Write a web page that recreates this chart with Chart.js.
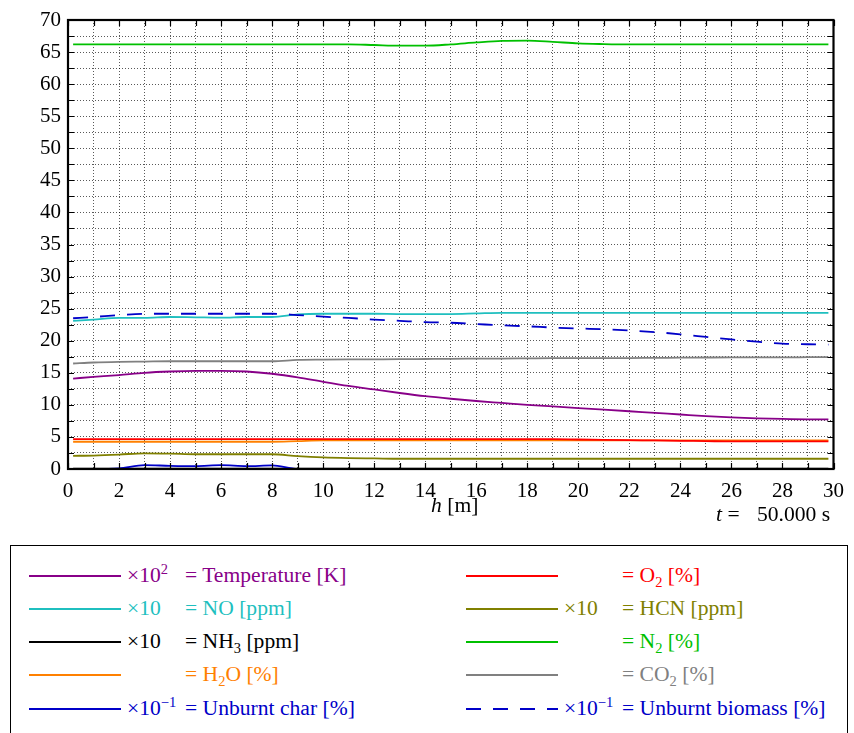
<!DOCTYPE html>
<html><head><meta charset="utf-8">
<script src="https://cdn.jsdelivr.net/npm/chart.js@4.4.1/dist/chart.umd.min.js"></script>
<style>
html,body{margin:0;padding:0;background:#fff;font-family:'Liberation Serif';}
#wrap{position:relative;width:854px;height:733px;overflow:hidden;font-family:'Liberation Serif';}
canvas{position:absolute;left:0;top:0;}
.t{position:absolute;white-space:nowrap;font-family:'Liberation Serif';font-size:21.6px;line-height:21px;}
.t sub,.t sup{font-size:14.5px;line-height:0;}
#legend{position:absolute;left:10px;top:545px;width:838px;height:200px;box-sizing:border-box;border:1px solid #000;}
.ln{position:absolute;width:92px;height:2px;}
</style></head><body>
<div id="wrap">
<canvas id="c" width="854" height="535"></canvas>
<div class="t" style="left:431px;top:495px;"><i>h</i> [m]</div>
<div class="t" style="left:716px;top:504px;"><i>t</i> =</div>
<div class="t" style="left:757px;top:504px;">50.000 s</div>
<div id="legend"></div>
</div>
<script>
const h = [0.2,1,2,3,4,5,6,7,8,9,10,11,12,13,14,15,16,17,18,19,20,21,22,23,24,25,26,27,28,29,29.8];
const temperature = [14.1,14.35,14.65,15.0,15.2,15.3,15.3,15.2,14.85,14.3,13.6,12.95,12.4,11.85,11.35,10.95,10.6,10.3,10.0,9.75,9.5,9.25,9.0,8.75,8.5,8.25,8.05,7.9,7.8,7.75,7.75];
const no = [23.1,23.3,23.55,23.55,23.7,23.65,23.6,23.7,23.7,24.1,24.2,24.2,24.2,24.15,24.15,24.15,24.25,24.35,24.35,24.35,24.35,24.35,24.35,24.35,24.35,24.35,24.35,24.35,24.35,24.35,24.35];
const nh3 = [0.05,0.05,0.05,0.05,0.05,0.05,0.05,0.05,0.05,0.05,0.05,0.05,0.05,0.05,0.05,0.05,0.05,0.05,0.05,0.05,0.05,0.05,0.05,0.05,0.05,0.05,0.05,0.05,0.05,0.05,0.05];
const h2o = [4.25,4.25,4.25,4.25,4.25,4.25,4.25,4.25,4.25,4.35,4.45,4.45,4.45,4.45,4.45,4.45,4.45,4.45,4.45,4.45,4.45,4.45,4.45,4.45,4.45,4.45,4.45,4.45,4.45,4.45,4.45];
const unburntChar = [0,0,0.1,0.6,0.5,0.45,0.6,0.45,0.55,0,0,0,0,0,0,0,0,0,0,0,0,0,0,0,0,0,0,0,0,0,0];
const o2 = [4.65,4.65,4.65,4.65,4.65,4.65,4.65,4.65,4.65,4.65,4.65,4.65,4.65,4.65,4.65,4.65,4.65,4.65,4.65,4.65,4.6,4.55,4.5,4.45,4.4,4.35,4.3,4.3,4.3,4.3,4.3];
const hcn = [2.05,2.1,2.25,2.45,2.4,2.3,2.3,2.3,2.3,2.0,1.8,1.7,1.65,1.6,1.6,1.6,1.6,1.6,1.6,1.6,1.6,1.6,1.6,1.6,1.6,1.6,1.6,1.6,1.6,1.6,1.6];
const n2 = [66.2,66.2,66.2,66.2,66.2,66.2,66.2,66.2,66.2,66.2,66.2,66.2,66.1,66.0,66.0,66.2,66.5,66.75,66.8,66.6,66.35,66.25,66.2,66.2,66.2,66.2,66.2,66.2,66.2,66.2,66.2];
const co2 = [16.45,16.6,16.7,16.75,16.8,16.8,16.8,16.8,16.8,17.0,17.05,17.08,17.1,17.12,17.15,17.18,17.2,17.22,17.25,17.28,17.3,17.3,17.3,17.33,17.35,17.38,17.4,17.4,17.4,17.43,17.45];
const unburntBiomass = [23.5,23.7,24.0,24.2,24.2,24.2,24.2,24.2,24.2,24.0,23.75,23.55,23.3,23.1,22.9,22.8,22.6,22.4,22.25,22.05,21.9,21.8,21.6,21.35,21.0,20.6,20.2,19.85,19.55,19.45,19.4];

const multipliers = ['×10<sup>2</sup>','×10','×10','','×10<sup>−1</sup>','','×10','','','×10<sup>−1</sup>'];
const names = ['= Temperature [K]','= NO [ppm]','= NH<sub>3</sub> [ppm]','= H<sub>2</sub>O [%]','= Unburnt char [%]','= O<sub>2</sub> [%]','= HCN [ppm]','= N<sub>2</sub> [%]','= CO<sub>2</sub> [%]','= Unburnt biomass [%]'];
const seriesData = [temperature,no,nh3,h2o,unburntChar,o2,hcn,n2,co2,unburntBiomass];
const colors = ['#880088','#1fbfbf','#000000','#ff8000','#0000c8','#ff0000','#808000','#00c000','#808080','#0000c8'];
const dashed = [false,false,false,false,false,false,false,false,false,true];
const xTickMax = 30, yTickMax = 70;

// draw order: first dataset on top
const drawOrder = [9,4,5,3,6,1,8,0,7,2];
const datasets = drawOrder.map(i => ({
  label: names[i].replace(/<[^>]+>/g,''),
  data: h.map((x,k)=>({x:x,y:seriesData[i][k]})),
  borderColor: colors[i],
  borderWidth: 1.8,
  borderDash: dashed[i] ? [15,12] : [],
  pointRadius: 0,
  fill: false,
  cubicInterpolationMode: 'monotone'
}));

const frame = {
  id:'frame',
  afterDraw(chart){
    const {ctx, chartArea:a, scales:{x,y}} = chart;
    ctx.save();
    ctx.strokeStyle='#000'; ctx.lineWidth=1.2;
    ctx.beginPath();
    x.ticks.forEach(t=>{ const px=Math.round(x.getPixelForValue(t.value))+0.5;
      ctx.moveTo(px,a.bottom); ctx.lineTo(px,a.bottom-6); ctx.moveTo(px,a.top); ctx.lineTo(px,a.top+6);});
    y.ticks.forEach(t=>{ const py=Math.round(y.getPixelForValue(t.value))+0.5;
      ctx.moveTo(a.left,py); ctx.lineTo(a.left+6,py); ctx.moveTo(a.right,py); ctx.lineTo(a.right-6,py);});
    ctx.stroke();
    ctx.lineWidth=2.2;
    ctx.strokeRect(a.left,a.top,a.right-a.left,a.bottom-a.top);
    ctx.restore();
  }
};

Chart.defaults.font.family = "'Liberation Serif'";
const font = {family:"'Liberation Serif'", size:21};
new Chart(document.getElementById('c'), {
  type:'line',
  data:{datasets},
  options:{
    responsive:false, animation:false,
    layout:{padding:{top:20,right:16,left:0,bottom:0}},
    plugins:{legend:{display:false}, tooltip:{enabled:false}},
    scales:{
      x:{type:'linear', min:0, max:xTickMax,
        ticks:{stepSize:1, autoSkip:false, maxRotation:0, color:'#000', font, padding:10,
          callback:v=> (v%2===0 ? String(v) : '')},
        grid:{color:'rgba(0,0,0,0.65)', lineWidth:1, drawTicks:false},
        border:{display:false, dash:[1,2]},
        afterFit:s=>{s.height=66;}
      },
      y:{min:0, max:yTickMax,
        ticks:{stepSize:2.5, autoSkip:false, color:'#000', font, padding:7,
          callback:v=> (v%5===0 ? String(v) : '')},
        grid:{color:'rgba(0,0,0,0.65)', lineWidth:1, drawTicks:false},
        border:{display:false, dash:[1,2]},
        afterFit:s=>{s.width=68;}
      }
    }
  },
  plugins:[frame]
});

// legend (HTML)
const leg = document.getElementById('legend');
const rowY = [576,609,642,675,709];
for (let i=0;i<names.length;i++){
  const col = i<5?0:1, row = i%5;
  const cy = rowY[row]-545-1;
  const lx = col?455:18, mx = col?553:116, ex = col?611:174;
  const ln = document.createElement('div');
  ln.className='ln';
  ln.style.left=lx+'px'; ln.style.top=(cy-1)+'px';
  ln.style.background = dashed[i] ? `repeating-linear-gradient(to right, ${colors[i]} 0 15px, transparent 15px 27px)` : colors[i];
  ln.style.height='1.6px';
  leg.appendChild(ln);
  if (multipliers[i]){
    const m=document.createElement('div'); m.className='t'; m.style.color=colors[i];
    m.style.left=mx+'px'; m.style.top=(cy-11)+'px'; m.innerHTML=multipliers[i]; leg.appendChild(m);
  }
  const e=document.createElement('div'); e.className='t'; e.style.color=colors[i];
  e.style.left=ex+'px'; e.style.top=(cy-11)+'px'; e.innerHTML=names[i]; leg.appendChild(e);
}
</script>
</body></html>
